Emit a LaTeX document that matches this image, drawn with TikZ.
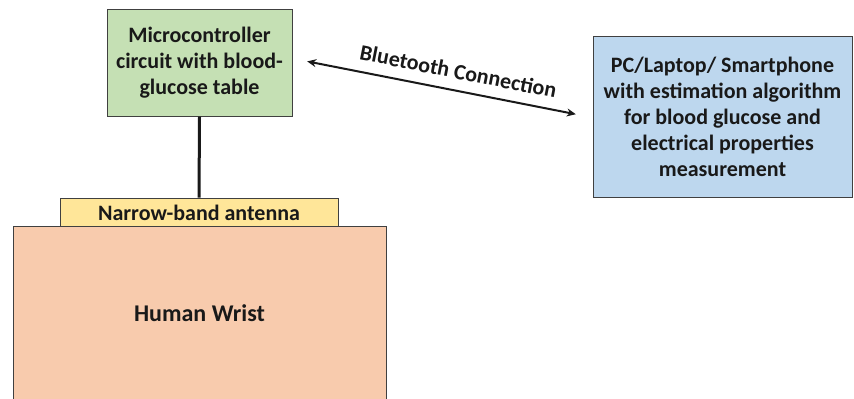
\documentclass[tikz,border=0pt]{standalone}
\usepackage{fontspec}
\setmainfont{Carlito}
\usepackage{tikz}
\usetikzlibrary{arrows.meta}
\usepackage{xcolor}
\definecolor{boxgreen}{HTML}{C5E0B4}
\definecolor{boxblue}{HTML}{BDD7EE}
\definecolor{boxyellow}{HTML}{FFE699}
\definecolor{boxskin}{HTML}{F8CBAD}

\begin{document}
\begin{tikzpicture}[x=0.5pt, y=-0.5pt,
	box/.style={draw=black!75, line width=0.5pt, align=center, inner sep=0pt, text=black!90, font=\fontsize{11}{13}\selectfont\bfseries}]
	\useasboundingbox (0,0) rectangle (854,398);
	\node[box, fill=boxgreen, minimum width=92.5pt, minimum height=53.5pt] (micro) at (199.5,62.5) {Microcontroller\\circuit with blood-\\glucose table};
	\node[box, fill=boxblue, minimum width=129.5pt, minimum height=80.5pt] (pc) at (722.5,116.5) {PC/Laptop/ Smartphone\\with estimation algorithm\\for blood glucose and\\electrical properties\\measurement};
	\node[box, fill=boxyellow, minimum width=139pt, minimum height=14.5pt] (antenna) at (199,212.5) {Narrow-band antenna};
	\node[box, fill=boxskin, minimum width=186.5pt, minimum height=87pt, font=\fontsize{12}{14}\selectfont\bfseries] (wrist) at (199.5,313.5) {Human Wrist};
	\draw[line width=1.5pt, black!90] (micro.south) -- (antenna.north);
	\draw[{Stealth[length=4.5pt,width=4pt]}-{Stealth[length=4.5pt,width=4pt]}, line width=1pt, black!90, shorten <=7.5pt, shorten >=8.5pt] ([yshift=2pt]micro.east) -- node[above=2pt, sloped, pos=0.54, font=\fontsize{11}{13}\selectfont\bfseries, text=black!90] {Bluetooth Connection} ([yshift=-0.5pt]pc.west);
\end{tikzpicture}
\end{document}
